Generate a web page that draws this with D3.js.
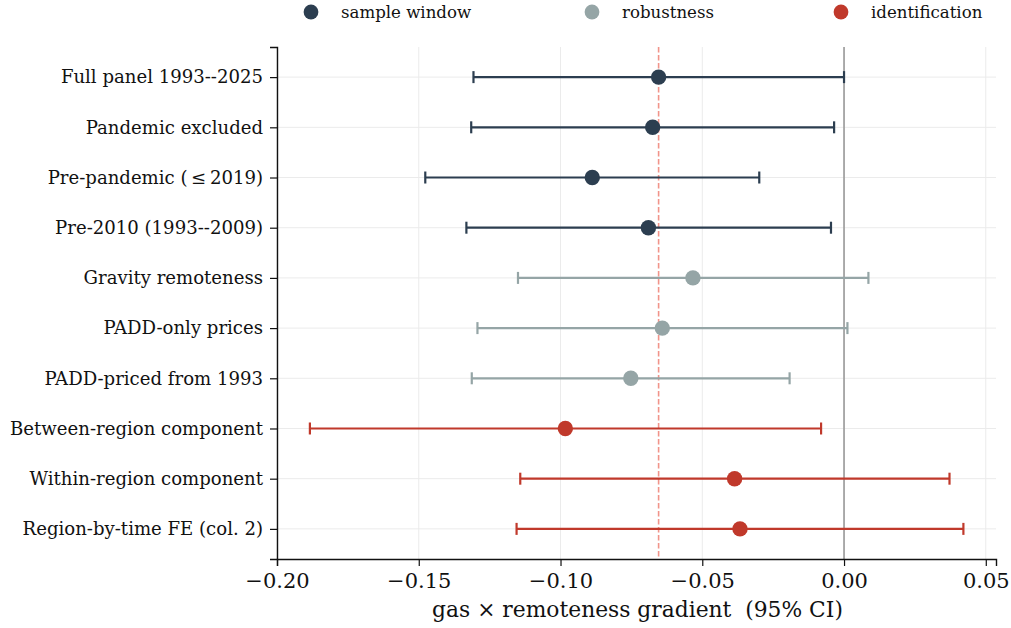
<!DOCTYPE html>
<html>
<head>
<meta charset="utf-8">
<script src="https://cdn.jsdelivr.net/npm/d3@7"></script>
<style>
  html, body { margin: 0; padding: 0; background: #fff; }
  svg { display: block; font-family: "DejaVu Serif", serif; }
</style>
</head>
<body>
<svg id="chart" width="1011" height="628"></svg>
<script>
// Specifications, top to bottom
const labels = [
  "Full panel 1993--2025",
  "Pandemic excluded",
  "Pre-pandemic (\u2009\u2264\u20092019)",
  "Pre-2010 (1993--2009)",
  "Gravity remoteness",
  "PADD-only prices",
  "PADD-priced from 1993",
  "Between-region component",
  "Within-region component",
  "Region-by-time FE (col. 2)"
];
const groups = [
  "sample window", "sample window", "sample window", "sample window",
  "robustness", "robustness", "robustness",
  "identification", "identification", "identification"
];
const estimates = [-0.0654, -0.0675, -0.0888, -0.0690, -0.0533, -0.0641, -0.0752, -0.0983, -0.0386, -0.0367];
const ciLow     = [-0.1307, -0.1315, -0.1477, -0.1332, -0.1150, -0.1293, -0.1313, -0.1884, -0.1142, -0.1155];
const ciHigh    = [ 0.0000, -0.0035, -0.0299, -0.0046,  0.0086,  0.0012, -0.0192, -0.0081,  0.0372,  0.0421];
const xTicks = [-0.20, -0.15, -0.10, -0.05, 0.00, 0.05];
const groupNames = ["sample window", "robustness", "identification"];
const groupColors = ["#2c3e50", "#95a5a6", "#c0392b"];
const baseline = estimates[0];

const rows = labels.map((l, i) => ({ label: l, group: groups[i], est: estimates[i], lo: ciLow[i], hi: ciHigh[i] }));

const svg = d3.select("#chart");
const plot = { left: 277, right: 996, top: 47, bottom: 559 };

const x = d3.scaleLinear().domain([-0.2, 0.0536]).range([plot.left, plot.right]);
const y = d3.scalePoint().domain(labels).range([plot.top, plot.bottom]).padding(0.6);
const color = d3.scaleOrdinal().domain(groupNames).range(groupColors);

// Grid
const grid = svg.append("g");
grid.selectAll("line.vg").data(xTicks).join("line")
  .attr("x1", d => x(d)).attr("x2", d => x(d))
  .attr("y1", plot.top).attr("y2", plot.bottom)
  .attr("stroke", "#ebebeb").attr("stroke-width", 1);
grid.selectAll("line.hg").data(labels).join("line")
  .attr("x1", plot.left).attr("x2", plot.right)
  .attr("y1", d => y(d)).attr("y2", d => y(d))
  .attr("stroke", "#ebebeb").attr("stroke-width", 1);

// Zero reference
svg.append("line")
  .attr("x1", x(0)).attr("x2", x(0)).attr("y1", plot.top).attr("y2", plot.bottom)
  .attr("stroke", "#999").attr("stroke-width", 1.6);

// Baseline estimate
svg.append("line")
  .attr("x1", x(baseline)).attr("x2", x(baseline)).attr("y1", plot.top).attr("y2", plot.bottom)
  .attr("stroke", "#e74c3c").attr("stroke-opacity", 0.6).attr("stroke-width", 1.6)
  .attr("stroke-dasharray", "5.5,2.5");

// Error bars
const bars = svg.append("g").selectAll("g").data(rows).join("g")
  .attr("stroke", d => color(d.group)).attr("stroke-width", 2.2);
bars.append("line")
  .attr("x1", d => x(d.lo)).attr("x2", d => x(d.hi))
  .attr("y1", d => y(d.label)).attr("y2", d => y(d.label));
bars.append("line")
  .attr("x1", d => x(d.lo)).attr("x2", d => x(d.lo))
  .attr("y1", d => y(d.label) - 6).attr("y2", d => y(d.label) + 6);
bars.append("line")
  .attr("x1", d => x(d.hi)).attr("x2", d => x(d.hi))
  .attr("y1", d => y(d.label) - 6).attr("y2", d => y(d.label) + 6);

// Point estimates
svg.append("g").selectAll("circle").data(rows).join("circle")
  .attr("cx", d => x(d.est)).attr("cy", d => y(d.label)).attr("r", 7.7)
  .attr("fill", d => color(d.group));

// Axes
const xAxis = svg.append("g")
  .attr("transform", `translate(0,${plot.bottom})`)
  .call(d3.axisBottom(x).tickValues(xTicks).tickFormat(d3.format(".2f")).tickSizeOuter(0).tickSize(7).tickPadding(7));
xAxis.selectAll("text").attr("font-size", 21).attr("font-family", "DejaVu Serif").attr("fill", "#111");

const yAxis = svg.append("g")
  .attr("transform", `translate(${plot.left},0)`)
  .call(d3.axisLeft(y).tickSizeOuter(0).tickSize(7).tickPadding(7));
yAxis.selectAll("text").attr("font-size", 18.1).attr("font-family", "DejaVu Serif").attr("fill", "#111");

[xAxis, yAxis].forEach(a => {
  a.select(".domain").attr("stroke", "#111").attr("stroke-width", 1.4);
  a.selectAll(".tick line").attr("stroke", "#111").attr("stroke-width", 1.2);
});

// Axis title
svg.append("text")
  .attr("x", 637.5).attr("y", 617)
  .attr("text-anchor", "middle").attr("font-size", 21.8).attr("fill", "#111")
  .style("white-space", "pre")
  .text("gas \u00d7 remoteness gradient  (95% CI)");

// Legend
const legendX = [311, 592, 841];
const legend = svg.append("g").selectAll("g").data(groupNames).join("g")
  .attr("transform", (d, i) => `translate(${legendX[i]},12)`);
legend.append("circle").attr("r", 7.4).attr("fill", d => color(d));
legend.append("text").attr("x", 30).attr("dy", "0.35em")
  .attr("font-size", 16.6).attr("fill", "#111").text(d => d);
</script>
</body>
</html>
